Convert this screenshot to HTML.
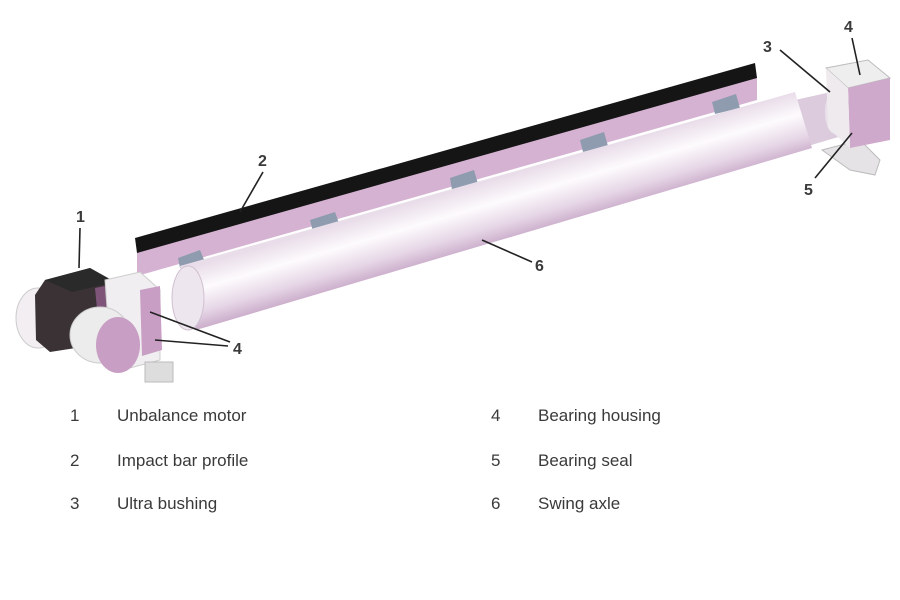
<!DOCTYPE html>
<html><head><meta charset="utf-8"><style>
html,body{margin:0;padding:0;background:#fff;width:900px;height:600px;overflow:hidden}
svg{display:block}
text{font-family:"Liberation Sans",sans-serif;fill:#3a3a3a}
</style></head><body>
<svg width="900" height="600" viewBox="0 0 900 600" xmlns="http://www.w3.org/2000/svg">
<defs>
<linearGradient id="pipe" x1="500" y1="178" x2="518" y2="240" gradientUnits="userSpaceOnUse">
<stop offset="0" stop-color="#e9dde9"/><stop offset="0.35" stop-color="#fdfbfd"/><stop offset="0.7" stop-color="#e6d6e6"/><stop offset="1" stop-color="#c6a6c6"/>
</linearGradient>
</defs>
<!-- pink strip under bar -->
<polygon points="137,252 757,77 757,100 137,276" fill="#d6b2d2"/>
<!-- brackets -->
<polygon points="178,258 200,250 205,262 180,268" fill="#8f9cb0"/>
<polygon points="310,220 335,212 340,226 313,232" fill="#8f9cb0"/>
<polygon points="450,178 474,170 478,184 452,190" fill="#8f9cb0"/>
<polygon points="580,140 604,132 608,146 583,152" fill="#8f9cb0"/>
<polygon points="712,102 736,94 740,108 715,114" fill="#8f9cb0"/>
<!-- black bar -->
<polygon points="135,238 755,63 757,78 137,253" fill="#151515"/>
<!-- right bushing -->
<polygon points="795,100 840,90 845,135 808,146" fill="#dccbdc"/>
<ellipse cx="835" cy="112" rx="10" ry="22" fill="#e9e1e9"/>
<!-- pipe -->
<polygon points="180,266 795,92 812,148 196,330" fill="url(#pipe)"/>
<ellipse cx="188" cy="298" rx="16" ry="32" fill="#eee6ee" stroke="#d0c0d0"/>
<!-- right housing -->
<polygon points="822,150 860,140 880,160 875,175 850,170" fill="#e6e3e6" stroke="#bbb"/>
<polygon points="826,68 868,60 890,78 848,88" fill="#efeeee" stroke="#bbb"/>
<polygon points="848,88 890,78 890,140 850,148" fill="#cfa9cb"/>
<polygon points="826,68 848,88 850,148 828,128" fill="#eeeaee"/>
<!-- left motor -->
<ellipse cx="38" cy="318" rx="22" ry="30" fill="#f2eef2" stroke="#ccc"/>
<polygon points="45,280 90,268 115,282 115,330 95,345 50,352 36,340 35,295" fill="#3b3236"/>
<polygon points="45,280 90,268 115,282 72,292" fill="#2a2a2a"/>
<polygon points="95,288 125,282 130,330 100,340" fill="#7e5478"/>
<polygon points="105,280 140,272 160,290 160,360 130,368 110,350" fill="#f0eef0" stroke="#ccc"/>
<polygon points="140,290 160,286 162,350 142,356" fill="#c89ec4"/>
<ellipse cx="100" cy="335" rx="30" ry="28" fill="#ececec" stroke="#ccc"/>
<ellipse cx="118" cy="345" rx="22" ry="28" fill="#c89ec4"/>
<rect x="145" y="362" width="28" height="20" fill="#ddd" stroke="#bbb"/>
<!-- leader lines -->
<g stroke="#222" stroke-width="1.6" fill="none">
<line x1="80" y1="228" x2="79" y2="268"/>
<line x1="263" y1="172" x2="240" y2="212"/>
<line x1="482" y1="240" x2="532" y2="262"/>
<line x1="780" y1="50" x2="830" y2="92"/>
<line x1="852" y1="38" x2="860" y2="75"/>
<line x1="815" y1="178" x2="852" y2="133"/>
<line x1="150" y1="312" x2="230" y2="342"/>
<line x1="155" y1="340" x2="228" y2="346"/>
</g>
<g style="font-weight:bold" font-size="16">
<text x="76" y="222">1</text>
<text x="258" y="166">2</text>
<text x="535" y="271">6</text>
<text x="763" y="52">3</text>
<text x="844" y="32">4</text>
<text x="804" y="195">5</text>
<text x="233" y="354">4</text>
</g>
<g font-size="17">
<text x="70" y="421">1</text><text x="117" y="421">Unbalance motor</text>
<text x="70" y="466">2</text><text x="117" y="466">Impact bar profile</text>
<text x="70" y="509">3</text><text x="117" y="509">Ultra bushing</text>
<text x="491" y="421">4</text><text x="538" y="421">Bearing housing</text>
<text x="491" y="466">5</text><text x="538" y="466">Bearing seal</text>
<text x="491" y="509">6</text><text x="538" y="509">Swing axle</text>
</g>
</svg>
</body></html>
